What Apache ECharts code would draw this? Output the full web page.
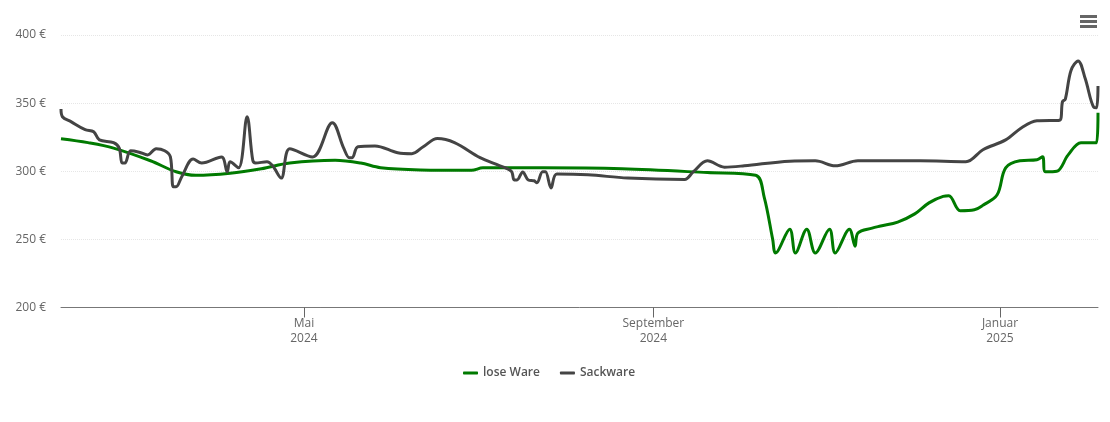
<!DOCTYPE html>
<html>
<head>
<meta charset="utf-8">
<script src="https://cdn.jsdelivr.net/npm/echarts@6/dist/echarts.min.js"></script>
<style>
html, body { margin: 0; padding: 0; background: #fff; }
#chart { width: 1110px; height: 422px; }
</style>
</head>
<body>
<div id="chart"></div>
<script>
const axisStart = '2024-02-05T12:00:00Z';
const axisEnd = '2025-02-04T12:00:00Z';
const tickDates = ['2024-05-01', '2024-09-01', '2025-01-01'];
const tickLabels = ['Mai\n2024', 'September\n2024', 'Januar\n2025'];

const loseDates = ['2024-02-05T12:00:00Z','2024-02-15','2024-02-24','2024-03-08','2024-03-17','2024-03-24','2024-04-05','2024-04-16','2024-04-26','2024-05-12','2024-05-21','2024-05-28','2024-06-11','2024-06-29','2024-07-03','2024-07-24','2024-08-21','2024-09-20','2024-10-07','2024-10-10','2024-10-13','2024-10-14','2024-10-19','2024-10-21','2024-10-25','2024-10-28','2024-11-02','2024-11-04','2024-11-09','2024-11-11','2024-11-12','2024-11-17','2024-11-20','2024-11-26','2024-12-02','2024-12-07','2024-12-12','2024-12-14','2024-12-18','2024-12-23','2024-12-26','2024-12-31','2025-01-03','2025-01-08','2025-01-14','2025-01-16','2025-01-17','2025-01-21','2025-01-25','2025-01-29T12:00:00Z','2025-02-04','2025-02-04T12:00:00Z'];
const loseValues = [323.9,321,317,307.7,299.6,297,298.5,301.8,306,308,306,302.6,301,300.7,302.5,302.5,301.8,299,297,281,250,240,257.5,240,257.5,240,257.5,240,257.5,245,254.7,258.3,259.8,262.7,268.7,276.8,281.6,282,271,271.7,275,282.7,302.5,307.7,308.4,310.6,299.6,300,312,321,321,343];

const sackDates = ['2024-02-05T12:00:00Z','2024-02-06','2024-02-09','2024-02-14','2024-02-17','2024-02-19','2024-02-24','2024-02-26','2024-02-27','2024-02-28','2024-03-01','2024-03-04','2024-03-07','2024-03-10','2024-03-13','2024-03-15','2024-03-16','2024-03-17','2024-03-19','2024-03-23','2024-03-26','2024-04-02','2024-04-04','2024-04-05','2024-04-08','2024-04-11','2024-04-13','2024-04-14','2024-04-18','2024-04-20','2024-04-23','2024-04-26','2024-05-04','2024-05-11','2024-05-15','2024-05-17','2024-05-18','2024-05-20','2024-05-26','2024-06-03','2024-06-08','2024-06-12','2024-06-17','2024-06-23','2024-07-02','2024-07-09','2024-07-13','2024-07-14','2024-07-15','2024-07-17','2024-07-19','2024-07-21','2024-07-22','2024-07-24','2024-07-25','2024-07-27','2024-07-29','2024-08-09','2024-08-23','2024-09-12','2024-09-15','2024-09-20','2024-09-26','2024-10-03','2024-10-19','2024-10-28','2024-11-04','2024-11-12','2024-12-04','2024-12-20','2024-12-26','2025-01-03','2025-01-09','2025-01-14','2025-01-22','2025-01-23','2025-01-24','2025-01-26','2025-01-28T12:00:00Z','2025-01-31','2025-02-03','2025-02-04','2025-02-04T12:00:00Z'];
const sackValues = [345.6,340,336.4,330.5,329,323,321,317,306,306,315,314,312,316.5,315,310.5,288.6,288.6,296,309,306,310.5,299.6,307,302.5,340,308,306,307,304,295,316.5,310.5,335.6,317,310,310,318,318.6,313.6,312.9,318,324,321,310,304,300,293.6,293.6,299.5,293.6,293,291.5,299.6,299.6,287.7,298,297.4,295,294,299.5,307.7,303,304,307.4,307.7,304,307.7,307.7,307,315.8,323,332.5,337,337.5,351,353,374,381,368,347,346.6,362.6];

function ms(d) {
    return new Date(d).getTime();
}

function toPairs(dates, values) {
    return dates.map(function (d, i) { return [ms(d), values[i]]; });
}

const chart = echarts.init(document.getElementById('chart'));
const font = '"Open Sans", "Noto Sans", sans-serif';
const tickValues = tickDates.map(ms);

chart.setOption({
    animation: false,
    textStyle: { fontFamily: font },
    grid: { left: 61, right: 12, top: 35, bottom: 114.5 },
    legend: {
        data: ['lose Ware', 'Sackware'],
        left: 458,
        top: 362,
        icon: 'roundRect',
        itemWidth: 15,
        itemHeight: 3,
        itemGap: 20,
        textStyle: { fontFamily: font, fontSize: 12, fontWeight: 600, color: '#555' }
    },
    toolbox: {
        right: -2,
        top: 0,
        itemSize: 17,
        feature: {
            myMenu: {
                show: true,
                title: 'Menu',
                icon: 'path://M0 0H17V3H0ZM0 5H17V8H0ZM0 10H17V13H0Z',
                iconStyle: { color: '#666', borderWidth: 0 },
                onclick: function () {}
            }
        }
    },
    xAxis: {
        type: 'value',
        min: ms(axisStart),
        max: ms(axisEnd),
        axisLine: { onZero: false, lineStyle: { color: '#777', width: 1 } },
        axisTick: { length: 10, lineStyle: { color: '#666' }, customValues: tickValues },
        axisLabel: {
            color: '#666',
            fontSize: 12,
            lineHeight: 15,
            margin: 9,
            customValues: tickValues,
            formatter: function (value) {
                return tickLabels[tickValues.indexOf(value)];
            }
        },
        splitLine: { show: false }
    },
    yAxis: {
        type: 'value',
        min: 200,
        max: 400,
        interval: 50,
        axisLine: { show: false },
        axisTick: { show: false },
        axisLabel: { color: '#666', fontSize: 12, margin: 15, formatter: '{value} €' },
        splitLine: { lineStyle: { color: '#e6e6e6', type: 'dotted', width: 1 } }
    },
    series: [
        {
            name: 'lose Ware',
            type: 'line',
            data: toPairs(loseDates, loseValues),
            showSymbol: false,
            smooth: 0.35,
            itemStyle: { color: '#007a00' },
            lineStyle: { color: '#007a00', width: 3 }
        },
        {
            name: 'Sackware',
            type: 'line',
            data: toPairs(sackDates, sackValues),
            showSymbol: false,
            smooth: 0.35,
            itemStyle: { color: '#444' },
            lineStyle: { color: '#444', width: 3 }
        }
    ]
});
</script>
</body>
</html>
